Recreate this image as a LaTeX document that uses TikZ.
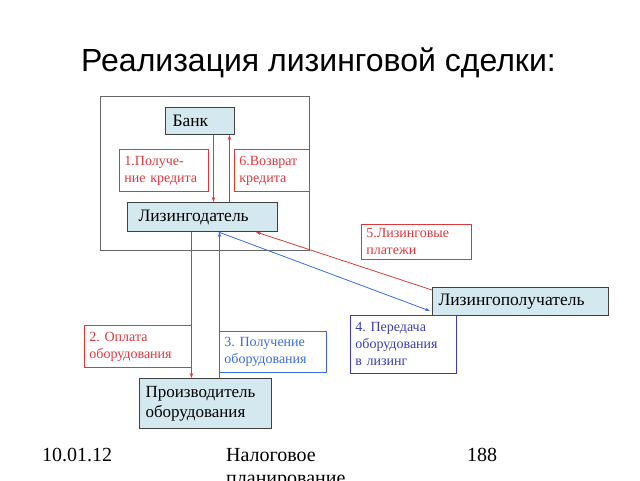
\documentclass[tikz,border=0pt]{standalone}
\usepackage{fontspec}
\setmainfont{Liberation Serif}
\newfontfamily\serifrm{Liberation Serif}
\newfontfamily\titlefont{Liberation Sans}
\usetikzlibrary{arrows.meta,calc}
\frenchspacing
\definecolor{boxfill}{HTML}{D4E9EF}
\definecolor{boxedge}{HTML}{404040}
\definecolor{myred}{HTML}{E0383A}
\definecolor{myblue}{HTML}{3A6BE0}
\definecolor{myindigo}{HTML}{3C3CB4}
\begin{document}
\begin{tikzpicture}[x=1pt,y=-1pt,
  mainbox/.style={draw=boxedge, fill=boxfill, line width=1pt, anchor=north west, inner xsep=6pt, inner ysep=2pt, align=left, font=\serifrm\fontsize{17.5}{19}\selectfont},
  lblbox/.style={draw=#1, text=#1, line width=0.8pt, anchor=north west, inner xsep=5pt, inner ysep=2pt, align=left, font=\serifrm\fontsize{14}{17}\selectfont},
  conn/.style={draw=#1, line width=0.8pt, -{Stealth[length=5pt,width=3.5pt]}},
  foot/.style={font=\serifrm\fontsize{20}{24}\selectfont, inner sep=0pt, anchor=base west}
]
\useasboundingbox (0,0) rectangle (640,480);
% title
\node[font=\titlefont\fontsize{32}{36}\selectfont, anchor=base, inner sep=0pt] (title) at (318.5,71) {Реализация лизинговой сделки:};
% outer frame
\node[draw=boxedge!80, line width=1pt, anchor=north west, minimum width=209pt, minimum height=154pt, inner sep=0pt] (frame) at (100,96) {};
% main boxes
\node[mainbox, minimum width=69pt, minimum height=27pt, text width=57pt] (bank) at (165,107) {\hspace{1pt}Банк};
\node[mainbox, minimum width=150pt, minimum height=29pt, text width=138pt] (lessor) at (127,202) {\hspace{5pt}Лизингодатель};
\node[mainbox, minimum width=176pt, minimum height=28pt, text width=164pt] (lessee) at (432,287) {Лизингополучатель};
\node[mainbox, minimum width=132pt, minimum height=50pt, text width=120pt, font=\serifrm\fontsize{17}{20}\selectfont] (maker) at (139,378) {Производитель\\оборудования};
% label boxes
\node[lblbox=myred, minimum width=89pt, minimum height=42pt, text width=79pt] (l1) at (119,149) {1.Получе-\\ние кредита};
\node[lblbox=myred, minimum width=75pt, minimum height=42pt, text width=65pt] (l6) at (234,149) {6.Возврат\\кредита};
\node[lblbox=myred, minimum width=110pt, minimum height=35pt, text width=100pt] (l5) at (361,224) {5.Лизинговые\\платежи};
\node[lblbox=myred, minimum width=107pt, minimum height=42pt, text width=97pt] (l2) at (84,325) {2. Оплата\\оборудования};
\node[lblbox=myblue, minimum width=107pt, minimum height=41pt, text width=97pt] (l3) at (219,331) {3. Получение\\оборудования};
\node[lblbox=myindigo, minimum width=106pt, minimum height=58pt, text width=96pt] (l4) at (350,315) {4. Передача\\оборудования\\в лизинг};
% connectors
\draw[conn=myred] ([xshift=13.5pt]bank.south) -- ([xshift=13.5pt]bank.south |- lessor.north);
\draw[conn=myred] ([xshift=29.5pt]bank.south |- lessor.north) -- ([xshift=29.5pt]bank.south);
\draw[conn=myred] ([xshift=-11pt]lessor.south) -- ([xshift=-11pt]lessor.south |- maker.north);
\draw[conn=myblue] ([xshift=17pt]lessor.south |- maker.north) -- ([xshift=17pt]lessor.south);
\draw[conn=myred] ([yshift=-3pt]lessee.north west) -- ([xshift=-22pt]lessor.south east);
\draw[conn=myblue] ([xshift=16pt]lessor.south) -- ([yshift=5pt,xshift=-2pt]lessee.south west);
% footer
\node[foot] (date) at (42,461) {10.01.12};
\node[foot] (subj) at (226,461) {Налоговое};
\node[foot] (subj2) at (226,484) {планирование};
\node[foot] (page) at (467,461) {188};
\end{tikzpicture}
\end{document}
